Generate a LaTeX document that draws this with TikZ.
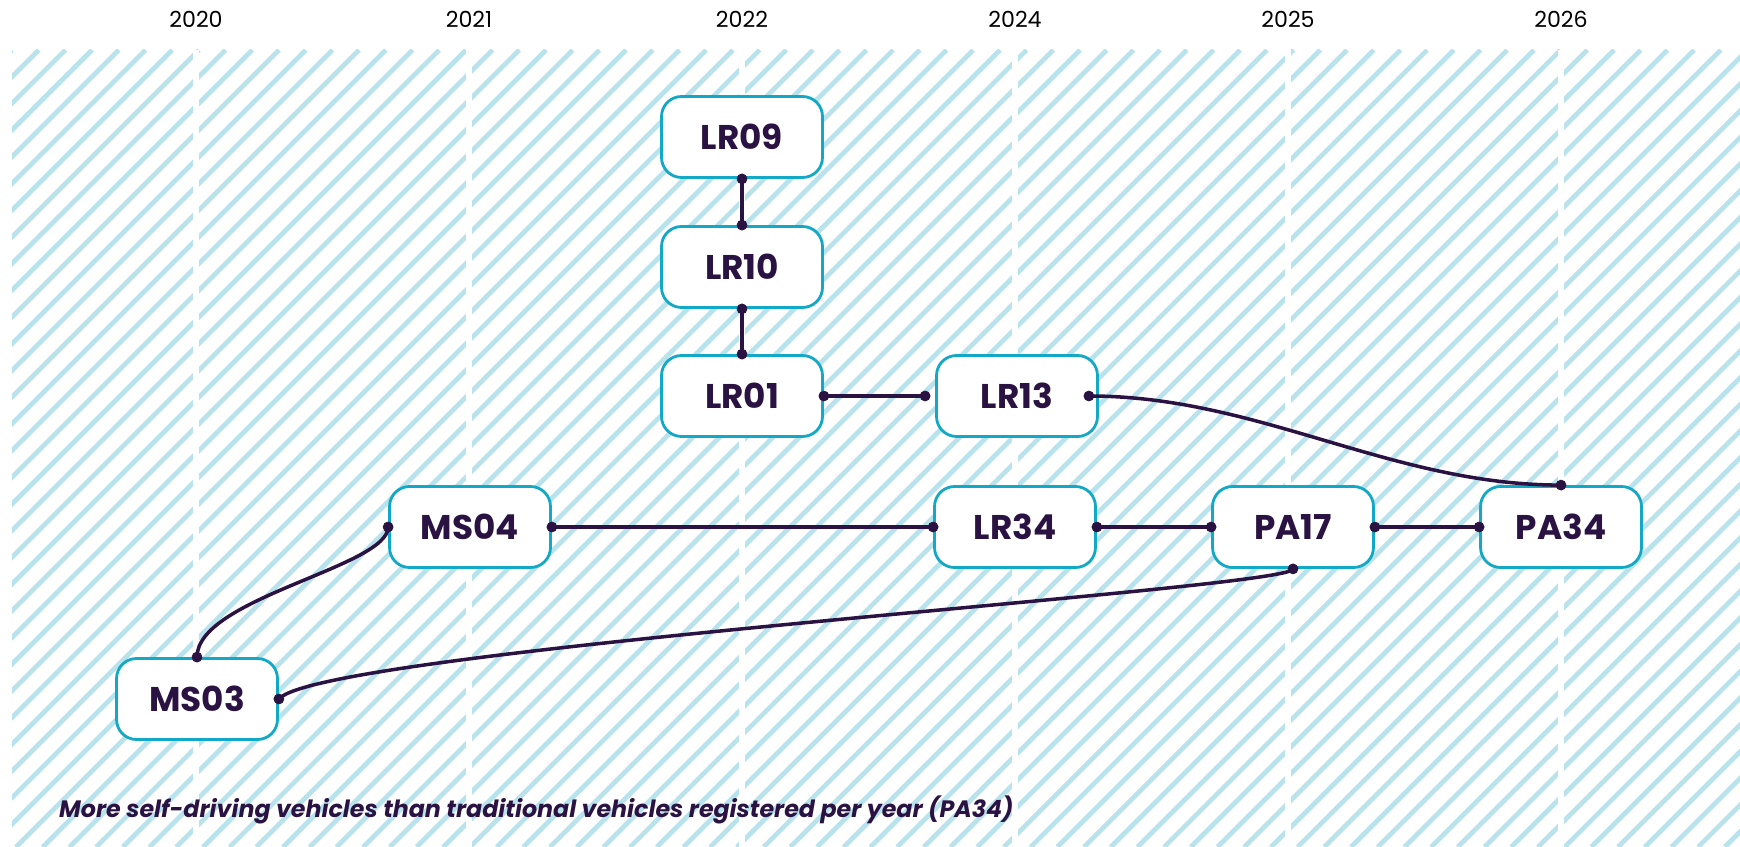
\documentclass[tikz,border=0pt]{standalone}
\usepackage{fontspec}
\setmainfont{Poppins}
\usetikzlibrary{calc,%
		positioning}

\definecolor{ink}{HTML}{2A1242}
\definecolor{boxline}{HTML}{13A9C6}
\definecolor{stripe}{HTML}{B8E2EC}

\tikzset{
  milestone/.style={draw=boxline, line width=1.6pt, fill=white,
    rounded corners=0.4cm, minimum width=3.22cm, minimum height=1.62cm,
    inner sep=0pt, text height=1.41em, text depth=0pt,
    text=ink, font=\fontsize{19.5}{21}\selectfont\bfseries},
  link/.style={draw=ink, line width=2pt},
  hatch/.style={draw=stripe, line width=2.7pt},
  gap/.style={draw=white, line width=3.4pt},
  yearlabel/.style={text=black, font=\fontsize{12.6}{14}\selectfont}
}

\begin{document}
\begin{tikzpicture}[x=0.02cm,y=-0.02cm]
\useasboundingbox (0,0) rectangle (1740,847);

% striped background
\begin{scope}
\clip (12,50) rectangle (1740,847);
\foreach \k in {0,...,96}
  \draw[hatch] ({-785+26.7*\k},847) -- ++(797,-797);
\end{scope}

% year columns
\foreach \x/\yr in {196/2020, 469/2021, 742/2022, 1015/2024, 1288/2025, 1561/2026} {
  \draw[gap] (\x,50) -- (\x,847);
  \node[yearlabel] (y\yr) at (\x,19) {\yr};
}

\node[milestone] (lr09) at (742,137) {LR09};
\node[milestone] (lr10) at (742,267) {LR10};
\node[milestone] (lr01) at (742,396) {LR01};
\node[milestone] (lr13) at (1017,396) {LR13};
\node[milestone] (ms04) at (470,527) {MS04};
\node[milestone] (lr34) at (1015,527) {LR34};
\node[milestone] (pa17) at (1293,527) {PA17};
\node[milestone] (pa34) at (1561,527) {PA34};
\node[milestone] (ms03) at (197,699) {MS03};

\coordinate (lr13in) at ([xshift=-0.2cm]lr13.west);
\coordinate (lr13out) at ([xshift=-0.2cm]lr13.east);

\draw[link] (lr09.south) -- (lr10.north);
\draw[link] (lr10.south) -- (lr01.north);
\draw[link] (lr01.east) -- (lr13in);
\draw[link] (lr13out) .. controls +(170,0) and +(-170,0) .. (pa34.north);
\draw[link] (ms04.east) -- (lr34.west);
\draw[link] (lr34.east) -- (pa17.west);
\draw[link] (pa17.east) -- (pa34.west);
\draw[link] (ms03.north) .. controls +(0,-59) and +(0,40) .. (ms04.west);
\draw[link] (ms03.east) .. controls +(41,-49) and +(0,20) .. (pa17.south);

\foreach \p in {lr09.south, lr10.north, lr10.south, lr01.north, lr01.east,
  lr13in, lr13out, pa34.north, ms04.east, lr34.west, lr34.east, pa17.west,
  pa17.east, pa34.west, ms03.north, ms04.west, ms03.east, pa17.south}
  \draw[fill=ink,ink] (\p) circle (0.1cm);

\node[anchor=base west, text=ink, font=\fontsize{13.5}{15}\selectfont\bfseries\itshape]
  (caption) at (53,817) {More self-driving vehicles than traditional vehicles registered per year (PA34)};

\end{tikzpicture}
\end{document}
